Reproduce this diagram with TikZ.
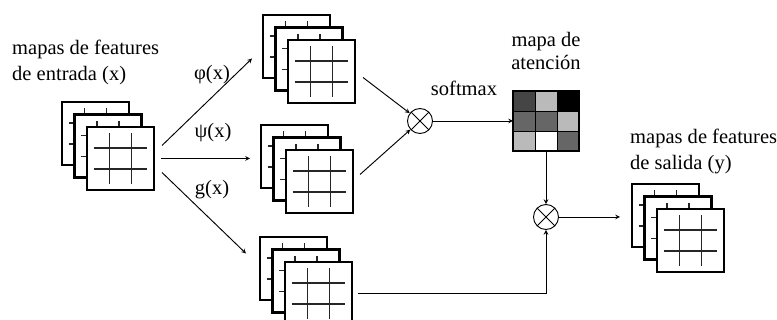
\documentclass[tikz,border=0pt]{standalone}
\usepackage{fontspec}
\setmainfont{Liberation Serif}
\usetikzlibrary{arrows, calc}

\tikzstyle{fmap} = [
    rectangle,
    minimum width=2.01cm,
    minimum height=1.89cm,
    inner sep=0pt,
    outer sep=0pt,
    draw=black,
    fill=white,
    line width=1.8pt
]
\tikzstyle{gridline} = [line width=1.3pt, black!85]
\tikzstyle{mult} = [
    circle,
    minimum size=0.75cm,
    inner sep=0pt,
    draw=black,
    line width=0.8pt,
    path picture={
        \draw[line width=0.8pt]
            (path picture bounding box.north west) -- (path picture bounding box.south east)
            (path picture bounding box.north east) -- (path picture bounding box.south west);
    }
]
\tikzstyle{attbox} = [
    rectangle,
    minimum width=1.98cm,
    minimum height=1.8cm,
    inner sep=0pt,
    outer sep=0pt,
    draw=black,
    line width=1.7pt
]
\tikzstyle{lbl} = [font=\fontsize{17.5}{22}\selectfont, inner sep=0pt]
\tikzstyle{arrow} = [line width=0.8pt,->,>=stealth]

% one feature map: square with a 3x3 grid
\newcommand{\fmapsq}[2]{%
    \node (#1) [fmap] at (#2) {};
    \foreach \t in {0.333,0.667} {
        \draw[gridline] ($(#1.north west)!\t!(#1.north east)+(0,6.3)$)
            -- ($(#1.south west)!\t!(#1.south east)+(0,-6.3)$);
        \draw[gridline] ($(#1.north west)!\t!(#1.south west)+(6.7,0)$)
            -- ($(#1.north east)!\t!(#1.south east)+(-6.7,0)$);
    }
}
% stack of three maps (back, middle, front)
\newcommand{\fmapstack}[3]{%
    \fmapsq{#1b}{#2,#3}
    \fmapsq{#1m}{#2+12.5,#3+12.5}
    \fmapsq{#1f}{#2+25,#3+25}
}

\begin{document}
\begin{tikzpicture}[x=0.03cm, y=-0.03cm]

\useasboundingbox (0,0) rectangle (777,320);

\fmapstack{in}{95.5}{133.5}
\fmapstack{phi}{296.5}{46.5}
\fmapstack{psi}{294.5}{156.5}
\fmapstack{g}{293.5}{268.5}
\fmapstack{out}{665.5}{215.5}

\node (inlbl) [lbl, anchor=north west, align=left] at (12,40)
{mapas de features\\de entrada (x)};
\node (outlbl) [lbl, anchor=north west, align=left] at (630,129)
{mapas de features\\de salida (y)};

\node (phil) [lbl, anchor=base] at (212,80) {φ(x)};
\node (psil) [lbl, anchor=base] at (213,138) {ψ(x)};
\node (gl) [lbl, anchor=base] at (212,195) {g(x)};

% attention map
\foreach \r/\c/\s in {0/0/73, 0/1/27, 0/2/100,
                      1/0/60, 1/1/60, 1/2/27,
                      2/0/27, 2/1/0, 2/2/60} {
    \filldraw[fill=black!\s, draw=black, line width=0.6pt]
        (513+\c*22,91+\r*20) rectangle ++(22,20);
}
\node (att) [attbox] at (546,121) {};
\node (attlbl) [lbl, anchor=north, align=center,
    font=\fontsize{17.5}{19.5}\selectfont] at (546,32)
{mapa de\\atención};

\node (c1) [mult] at (420,121) {};
\node (c2) [mult] at (546,217) {};
\node (smx) [lbl, anchor=base] at (464,96) {softmax};

\draw [arrow] ([shift={(8,-13)}]inf.east) -- ([shift={(-11,12)}]phib.west);
\draw [arrow] ([shift={(7,0)}]inf.east) -- ([shift={(-11,2)}]psib.west);
\draw [arrow] ([shift={(8,14)}]inf.east) -- ([shift={(-14,-15)}]gb.west);
\draw [arrow] ([shift={(8,6)}]phif.east) -- (c1);
\draw [arrow] ([shift={(7,-7)}]psif.east) -- (c1);
\draw [arrow] (c1) -- (att);
\draw [arrow] (att) -- (c2);
\draw [arrow] ([shift={(6,0)}]gf.east) -| (c2);
\draw [arrow] (c2) -- ($(outb.west |- c2)+(-12,0)$);

\end{tikzpicture}
\end{document}
